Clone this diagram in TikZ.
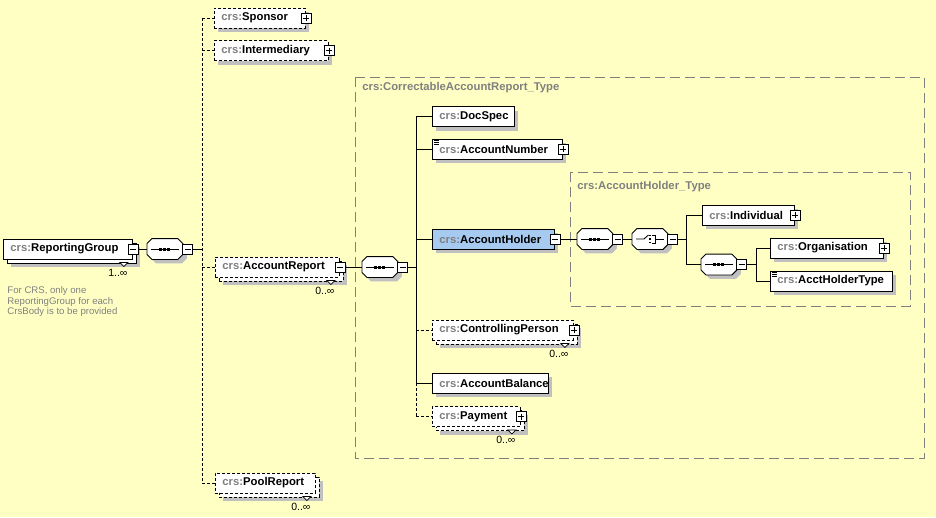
\documentclass[tikz,border=0pt]{standalone}
\usepackage{fontspec}
\setmainfont{Liberation Sans}
\usetikzlibrary{positioning, shadows}

\definecolor{paper}{RGB}{255,255,196}
\definecolor{nsgray}{RGB}{128,128,128}
\definecolor{shadowgray}{RGB}{192,192,192}
\definecolor{holderblue}{RGB}{166,202,240}

\newcommand{\crs}[1]{{\color{nsgray}crs:}#1}
\newcommand{\occurs}[2]{%
	\draw[fill=white, line width=0.7pt] ([xshift=-13pt,yshift=-3pt]#1.south east) -- ++(8pt,0pt) -- ++(-4pt,-4pt) -- cycle;
	\node[occ, anchor=east] (#1o) at ([xshift=-5pt,yshift=-13pt]#1.south east) {#2};
}
% octagon body of a compositor, drawn round its (invisible) node
\newcommand{\compbody}[1]{%
	\fill[shadowgray, transform canvas={shift={(4pt,-4pt)}}] ([xshift=5pt]#1.north west) -- ([xshift=-5pt]#1.north east)
		-- ([yshift=-5pt]#1.north east) -- ([yshift=5pt]#1.south east) -- ([xshift=-5pt]#1.south east)
		-- ([xshift=5pt]#1.south west) -- ([yshift=5pt]#1.south west) -- ([yshift=-5pt]#1.north west) -- cycle;
	\draw[fill=white] ([xshift=5pt]#1.north west) -- ([xshift=-5pt]#1.north east)
		-- ([yshift=-5pt]#1.north east) -- ([yshift=5pt]#1.south east) -- ([xshift=-5pt]#1.south east)
		-- ([xshift=5pt]#1.south west) -- ([yshift=5pt]#1.south west) -- ([yshift=-5pt]#1.north west) -- cycle;
}
\newcommand{\seqicon}[1]{%
	\compbody{#1}
	\draw ([xshift=4pt]#1.west) -- ([xshift=-4pt]#1.east);
	\foreach \dx in {-4,0,4}
		\fill ([xshift=\dx pt]#1.center) +(-1.5pt,-1.5pt) rectangle +(1.5pt,1.5pt);
}
\newcommand{\choiceicon}[1]{%
	\compbody{#1}
	\draw ([xshift=4pt]#1.west) -- ([xshift=-6pt]#1.center) -- ([xshift=-1.5pt,yshift=4pt]#1.center);
	\foreach \dy in {-3.5,0,3.5}
		\fill ([xshift=0.5pt,yshift=\dy pt]#1.center) +(-1pt,-0.9pt) rectangle +(1pt,0.9pt);
	\draw ([xshift=2.5pt,yshift=4pt]#1.center) -- ++(2.5pt,0pt) -- ++(0pt,-8pt) -- ++(-2.5pt,0pt);
	\draw ([xshift=5pt]#1.center) -- ([xshift=-4pt]#1.east);
}

\tikzset{
	opt/.style={dash pattern=on 3pt off 2pt},
	box/.style={draw, fill=white, anchor=west, minimum height=20pt, inner xsep=7pt, inner ysep=0pt,
		align=left, text width={#1pt-14pt}, font=\fontsize{11.3}{13}\selectfont\bfseries},
	single/.style={box=#1, general shadow={shadow xshift=4pt, shadow yshift=-4pt, fill=shadowgray}},
	multi/.style={box=#1, general shadow={shadow xshift=8pt, shadow yshift=-8pt, fill=shadowgray},
		general shadow={shadow xshift=4pt, shadow yshift=-4pt, fill=white, draw=black}},
	optmulti/.style={box=#1, opt, general shadow={shadow xshift=8pt, shadow yshift=-8pt, fill=shadowgray},
		general shadow={shadow xshift=4pt, shadow yshift=-4pt, fill=white, draw=black, opt}},
	pm/.style={draw, fill=white, minimum size=10pt, inner sep=0pt, line width=0.8pt,
		path picture={\draw[line width=0.8pt] ([xshift=2pt]path picture bounding box.west) -- ([xshift=-2pt]path picture bounding box.east);}},
	pp/.style={pm, path picture={
		\draw[line width=0.8pt] ([xshift=2pt]path picture bounding box.west) -- ([xshift=-2pt]path picture bounding box.east);
		\draw[line width=0.8pt] ([yshift=-2pt]path picture bounding box.north) -- ([yshift=2pt]path picture bounding box.south);}},
	comp/.style={minimum width=35pt, minimum height=20pt, inner sep=0pt, anchor=west},
	typebox/.style={draw=nsgray, dash pattern=on 10pt off 5pt},
	typelabel/.style={anchor=west, inner sep=0pt, text=nsgray, font=\fontsize{11.3}{13}\selectfont\bfseries},
	occ/.style={inner sep=0pt, font=\fontsize{10.5}{12}\selectfont},
	note/.style={inner sep=0pt, align=left, text=nsgray, font=\fontsize{9.6}{10.7}\selectfont}
}

\begin{document}
\begin{tikzpicture}[x=1pt, y=-1pt, line width=0.9pt]
	\fill[paper] (0,0) rectangle (936,517);
	\useasboundingbox (0,0) rectangle (936,517);

	% complex types
	\draw[typebox] (355,77) rectangle (924,458);
	\draw[typebox] (570,172) rectangle (910,306);
	\node[typelabel] (t1) at (362,88) {crs:CorrectableAccountReport\_Type};
	\node[typelabel] (t2) at (577,187) {crs:AccountHolder\_Type};

	% elements
	\draw (3,249) node[multi=129] (rg) {\crs{ReportingGroup}}
		(214,18) node[single=91, opt] (spons) {\crs{Sponsor}}
		(214,50.5) node[single=114, opt] (inter) {\crs{Intermediary}}
		(215,267) node[optmulti=124] (accrep) {\crs{AccountReport}}
		(215,483) node[optmulti=100] (pool) {\crs{PoolReport}}
		(432,116.5) node[single=82] (docspec) {\crs{DocSpec}}
		(432,149) node[single=130] (accnum) {\crs{AccountNumber}}
		(432,239) node[single=122, fill=holderblue] (accholder) {\crs{AccountHolder}}
		(432,330) node[optmulti=141] (ctrl) {\crs{ControllingPerson}}
		(432,383) node[single=116] (accbal) {\crs{AccountBalance}}
		(432,416.5) node[optmulti=88] (pay) {\crs{Payment}}
		(702,215) node[single=92] (indiv) {\crs{Individual}}
		(770,248) node[single=113] (org) {\crs{Organisation}}
		(770,281) node[single=122] (aht) {\crs{AcctHolderType}};

	% simple content marks
	\foreach \n in {accnum, aht}
		\foreach \dy in {2,4,6}
			\draw[line width=0.7pt] ([xshift=2pt,yshift=-\dy pt]\n.north west) -- ++(5pt,0pt);

	% compositors
	\draw (147,249) node[comp] (seq1) {}
		(362,267) node[comp] (seq2) {}
		(577,239) node[comp] (seq3) {}
		(632,239) node[comp] (choice1) {}
		(701,264.5) node[comp] (seq4) {};
	\seqicon{seq1}
	\seqicon{seq2}
	\seqicon{seq3}
	\choiceicon{choice1}
	\seqicon{seq4}

	% expand buttons
	\draw (rg.east) node[pm] (rgm) {}
		(spons.east) node[pp] (sponsp) {}
		(inter.east) node[pp] (interp) {}
		(accrep.east) node[pm] (accrepm) {}
		(accnum.east) node[pp] (accnump) {}
		(accholder.east) node[pm] (accholderm) {}
		(ctrl.east) node[pp] (ctrlp) {}
		(pay.east) node[pp] (payp) {}
		(indiv.east) node[pp] (indivp) {}
		(org.east) node[pp] (orgp) {}
		([xshift=-0.5pt]seq1.east) node[pm, anchor=west] (seq1m) {}
		([xshift=-0.5pt]seq2.east) node[pm, anchor=west] (seq2m) {}
		([xshift=-0.5pt]seq3.east) node[pm, anchor=west] (seq3m) {}
		([xshift=-0.5pt]choice1.east) node[pm, anchor=west] (choice1m) {}
		([xshift=-0.5pt]seq4.east) node[pm, anchor=west] (seq4m) {};

	% occurrences
	\occurs{rg}{1..∞}
	\occurs{accrep}{0..∞}
	\occurs{ctrl}{0..∞}
	\occurs{pay}{0..∞}
	\occurs{pool}{0..∞}

	\node[note, anchor=north west] (rgnote) at (7,286) {For CRS, only one\\ReportingGroup for each\\CrsBody is to be provided};

	% spines
	\coordinate (sp1) at (202,249);
	\coordinate (sp2) at (416,267);
	\coordinate (sp3) at (686,239);
	\coordinate (sp4) at (756,264.5);

	\draw (rgm) -- (seq1);
	\draw (seq1m) -- (sp1);
	\draw[opt] (sp1 |- spons) -- (sp1 |- pool);
	\draw[opt] (sp1 |- spons) -- (spons);
	\draw[opt] (sp1 |- inter) -- (inter);
	\draw[opt] (sp1 |- accrep) -- (accrep);
	\draw[opt] (sp1 |- pool) -- (pool);

	\draw (accrepm) -- (seq2);
	\draw (seq2m) -- (sp2);
	\draw (sp2 |- docspec) -- (sp2 |- accbal);
	\draw[opt] (sp2 |- accbal) -- (sp2 |- pay);
	\draw (sp2 |- docspec) -- (docspec);
	\draw (sp2 |- accnum) -- (accnum);
	\draw (sp2 |- accholder) -- (accholder);
	\draw[opt] (sp2 |- ctrl) -- (ctrl);
	\draw (sp2 |- accbal) -- (accbal);
	\draw[opt] (sp2 |- pay) -- (pay);

	\draw (accholderm) -- (seq3);
	\draw (seq3m) -- (choice1);
	\draw (choice1m) -- (sp3);
	\draw (sp3 |- indiv) -- (sp3 |- seq4);
	\draw (sp3 |- indiv) -- (indiv);
	\draw (sp3 |- seq4) -- (seq4);

	\draw (seq4m) -- (sp4);
	\draw (sp4 |- org) -- (sp4 |- aht);
	\draw (sp4 |- org) -- (org);
	\draw (sp4 |- aht) -- (aht);
\end{tikzpicture}
\end{document}
